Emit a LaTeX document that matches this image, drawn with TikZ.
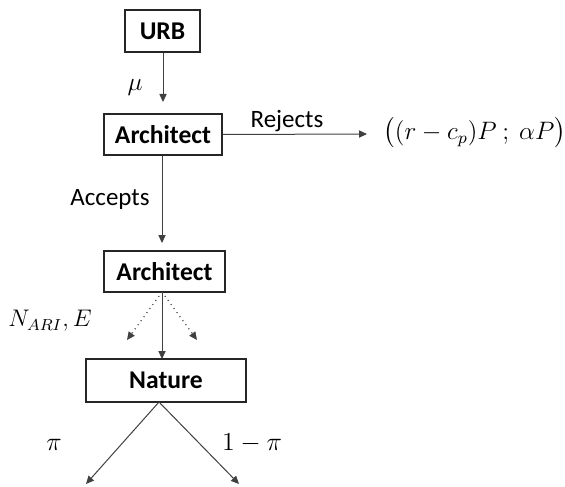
\documentclass[tikz,border=0pt]{standalone}
\usepackage[no-math]{fontspec}
\setmainfont{Carlito}
\usepackage{amsmath}
\usepackage{graphicx}
\usetikzlibrary{arrows.meta}

\definecolor{linegray}{HTML}{404040}

\tikzset{
  stagebox/.style={draw=black!85, line width=0.6pt, font=\fontsize{12.8}{15}\selectfont\bfseries,
    inner sep=0pt, anchor=center},
  lbl/.style={font=\fontsize{12.5}{15}\selectfont, inner sep=0pt},
  mlbl/.style={font=\fontsize{12}{14}\selectfont, inner sep=0pt},
  flow/.style={draw=linegray, line width=0.5pt, -{Triangle[length=4pt,width=3.6pt]}},
  hint/.style={flow, dotted, line width=0.6pt},
}

\begin{document}
\begin{tikzpicture}[x=0.5pt,y=-0.5pt]
\useasboundingbox (0,0) rectangle (565,486);

% decision stages
\node[stagebox, minimum width=37.5pt, minimum height=21pt] (urb) at (162.5,31) {URB};
\node[stagebox, minimum width=59pt, minimum height=20.5pt] (arch1) at (163,134.5) {Architect};
\node[stagebox, minimum width=60.5pt, minimum height=20.5pt] (arch2) at (164.5,271.5) {Architect};
\node[stagebox, minimum width=80pt, minimum height=21.5pt] (nature) at (166,380.5) {Nature};

% free ends of the connectors
\coordinate (urbend) at (163,102);
\coordinate (rejend) at (367,134);
\coordinate (accend) at (162,243);
\coordinate (dotl) at (127,340);
\coordinate (dotr) at (197,340);
\coordinate (top2) at (162,292);
\coordinate (natin) at (162,359);
\coordinate (natout) at (159,402);
\coordinate (leafl) at (86,484);
\coordinate (leafr) at (239,484);

% labels
\node[mlbl] (mu) at (135,87) {\scalebox{1.06}{$\mu$}};
\node[lbl] (rejlbl) at (287,121) {Rejects};
\node[mlbl, anchor=west] (payoff) at (383,133) {\scalebox{1.05}{$\bigl((r-c_p)P\ ;\ \alpha P\bigr)$}};
\node[lbl] (acclbl) at (110,199) {Accepts};
\node[mlbl] (info) at (50,321) {$N_{ARI}, E$};
\node[mlbl] (pil) at (54,445) {\scalebox{1.08}{$\pi$}};
\node[mlbl] (pir) at (252,443) {\scalebox{1.08}{$1-\pi$}};

% connectors
\draw[flow] (urb.south -| urbend) -- (urbend);
\draw[flow] (arch1.east) -- (rejend);
\draw[flow] (arch1.south -| accend) -- (accend);
\draw[hint] (top2) -- (dotl);
\draw[hint] (top2) -- (dotr);
\draw[flow] (top2) -- (natin);
\draw[flow] (natout) -- (leafl);
\draw[flow] (natout) -- (leafr);
\end{tikzpicture}
\end{document}
